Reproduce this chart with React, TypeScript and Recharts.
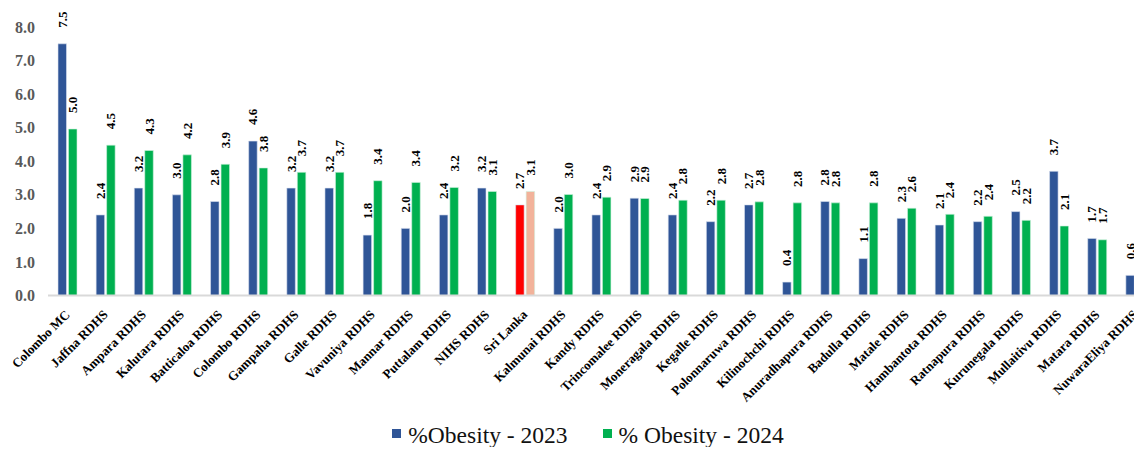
import React from 'react';
import { BarChart, Bar, XAxis, YAxis, Legend, Cell, LabelList } from 'recharts';

const categories = [
  'Colombo MC', 'Jaffna RDHS', 'Ampara RDHS', 'Kalutara RDHS', 'Batticaloa RDHS',
  'Colombo RDHS', 'Gampaha RDHS', 'Galle RDHS', 'Vavuniya RDHS', 'Mannar RDHS',
  'Puttalam RDHS', 'NIHS RDHS', 'Sri Lanka', 'Kalmunai RDHS', 'Kandy RDHS',
  'Trincomalee RDHS', 'Moneragala RDHS', 'Kegalle RDHS', 'Polonnaruwa RDHS', 'Kilinochchi RDHS',
  'Anuradhapura RDHS', 'Badulla RDHS', 'Matale RDHS', 'Hambantota RDHS', 'Ratnapura RDHS',
  'Kurunegala RDHS', 'Mullaitivu RDHS', 'Matara RDHS', 'NuwaraEliya RDHS',
];

const obesity2023 = [
  7.5, 2.4, 3.2, 3.0, 2.8,
  4.6, 3.2, 3.2, 1.8, 2.0,
  2.4, 3.2, 2.7, 2.0, 2.4,
  2.9, 2.4, 2.2, 2.7, 0.4,
  2.8, 1.1, 2.3, 2.1, 2.2,
  2.5, 3.7, 1.7, 0.6,
];

const obesity2024 = [
  4.96, 4.48, 4.32, 4.19, 3.91,
  3.8, 3.67, 3.67, 3.42, 3.37,
  3.22, 3.1, 3.1, 3.01, 2.93,
  2.89, 2.84, 2.84, 2.79, 2.76,
  2.76, 2.76, 2.6, 2.42, 2.36,
  2.24, 2.07, 1.66, 1.06,
];

const yTicks = [0, 1, 2, 3, 4, 5, 6, 7, 8];
const highlightCategory = 'Sri Lanka';

const seriesNames = ['%Obesity - 2023', '% Obesity - 2024'];
const colors = {
  blue: '#2F5597',
  green: '#00B050',
  red: '#FF0000',
  salmon: '#F2B29A',
};

const data = categories.map((name, i) => ({
  name,
  v2023: obesity2023[i],
  v2024: obesity2024[i],
}));

const FONT = '"Liberation Serif", "Times New Roman", serif';

const renderValueLabel = (props: any) => {
  const { x, y, width, value } = props;
  const cx = Number(x) + Number(width) / 2;
  const ty = Number(y) - 16;
  return (
    <text
      x={cx}
      y={ty}
      transform={`rotate(-90 ${cx} ${ty})`}
      textAnchor="start"
      dominantBaseline="central"
      fontSize={13}
      fontWeight="bold"
      fontFamily={FONT}
      fill="#000"
    >
      {Number(value).toFixed(1)}
    </text>
  );
};

const XTick = (props: any) => {
  const { x, y, payload } = props;
  const ax = Number(x) + 3.5;
  const ay = Number(y) + 20;
  return (
    <text
      x={ax}
      y={ay}
      transform={`rotate(-45 ${ax} ${ay})`}
      textAnchor="end"
      fontSize={13}
      fontWeight="bold"
      fontFamily={FONT}
      fill="#000"
    >
      {payload.value}
    </text>
  );
};

const renderLegend = () => {
  const items = [
    { label: seriesNames[0], color: colors.blue },
    { label: seriesNames[1], color: colors.green },
  ];
  return (
    <div
      style={{
        display: 'flex',
        justifyContent: 'center',
        alignItems: 'center',
        height: 30,
        paddingLeft: 14,
        boxSizing: 'border-box',
      }}
    >
      {items.map((it, i) => (
        <div
          key={it.label}
          style={{ display: 'flex', alignItems: 'center', marginLeft: i === 0 ? 0 : 35 }}
        >
          <span
            style={{
              display: 'inline-block',
              width: 9,
              height: 9,
              background: it.color,
              marginRight: 7,
              position: 'relative',
              top: -2,
            }}
          />
          <span
            style={{
              fontFamily: FONT,
              fontSize: 23.5,
              lineHeight: '24px',
              color: '#111',
              whiteSpace: 'pre',
            }}
          >
            {it.label}
          </span>
        </div>
      ))}
    </div>
  );
};

export default function App() {
  return (
    <div style={{ width: 1134, height: 447, overflow: 'hidden', marginBottom: -8, position: 'relative' }}>
      <BarChart
        width={1146}
        height={447}
        data={data}
        margin={{ top: 19, right: 0, bottom: 0, left: 0 }}
        barSize={8.5}
        barGap={2}
      >
        <XAxis
          dataKey="name"
          interval={0}
          tickLine={false}
          tickSize={0}
          tickMargin={0}
          axisLine={{ stroke: '#D9D9D9', strokeWidth: 2 }}
          height={129.5}
          tick={<XTick />}
        />
        <YAxis
          width={40}
          domain={[0, 8]}
          ticks={yTicks}
          axisLine={false}
          tickLine={false}
          tickSize={6}
          tickMargin={7}
          tickFormatter={(v: number) => v.toFixed(1)}
          tick={{ fill: '#595959', fontSize: 16, fontWeight: 'bold', fontFamily: FONT }}
        />
        <Legend
          verticalAlign="bottom"
          height={30}
          content={renderLegend}
          wrapperStyle={{ top: 412, bottom: 'auto', left: 0, width: 1146, height: 30 }}
        />
        <Bar dataKey="v2023" name={seriesNames[0]} fill={colors.blue} stroke="#DCE3F0" strokeWidth={0.6} isAnimationActive={false}>
          {data.map((d) => (
            <Cell key={d.name} fill={d.name === highlightCategory ? colors.red : colors.blue} />
          ))}
          <LabelList dataKey="v2023" content={renderValueLabel} />
        </Bar>
        <Bar dataKey="v2024" name={seriesNames[1]} fill={colors.green} stroke="#CFF2DD" strokeWidth={0.6} isAnimationActive={false}>
          {data.map((d) => (
            <Cell key={d.name} fill={d.name === highlightCategory ? colors.salmon : colors.green} />
          ))}
          <LabelList dataKey="v2024" content={renderValueLabel} />
        </Bar>
      </BarChart>
    </div>
  );
}
